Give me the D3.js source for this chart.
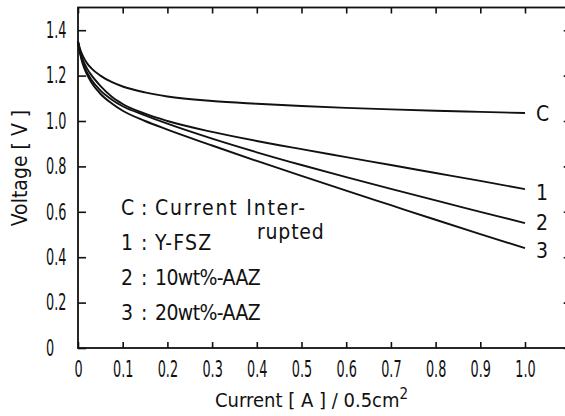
<!DOCTYPE html>
<html><head><meta charset="utf-8">
<script src="https://cdn.jsdelivr.net/npm/d3@7"></script>
<style>
html,body{margin:0;padding:0;background:#fff;}
text{font-family:"DejaVu Sans Condensed","DejaVu Sans",sans-serif;fill:#111;}
</style></head>
<body><svg id="c" width="565" height="416"></svg>
<script>
const current = [0, 0.005, 0.01, 0.02, 0.03, 0.05, 0.075, 0.1, 0.15, 0.2, 0.3, 0.4, 0.5, 0.6, 0.7, 0.8, 0.9, 1.0];
const voltC = [1.35, 1.315, 1.29, 1.255, 1.232, 1.2, 1.172, 1.152, 1.126, 1.108, 1.088, 1.076, 1.066, 1.058, 1.051, 1.045, 1.04, 1.035];
const volt1 = [1.35, 1.302, 1.273, 1.232, 1.202, 1.155, 1.108, 1.075, 1.032, 1.0, 0.952, 0.912, 0.876, 0.841, 0.806, 0.771, 0.736, 0.70];
const volt2 = [1.35, 1.298, 1.262, 1.215, 1.182, 1.135, 1.095, 1.065, 1.025, 0.988, 0.922, 0.862, 0.806, 0.753, 0.701, 0.65, 0.60, 0.55];
const volt3 = [1.35, 1.295, 1.255, 1.205, 1.17, 1.12, 1.078, 1.045, 1.0, 0.962, 0.892, 0.824, 0.758, 0.693, 0.629, 0.565, 0.502, 0.44];
const seriesKeys = ["C", "1", "2", "3"];
const seriesValues = [voltC, volt1, volt2, volt3];
const xTicks = [0, 0.1, 0.2, 0.3, 0.4, 0.5, 0.6, 0.7, 0.8, 0.9, 1.0];
const xTickLabels = ["0", "0.1", "0.2", "0.3", "0.4", "0.5", "0.6", "0.7", "0.8", "0.9", "1.0"];
const yTicks = [0, 0.2, 0.4, 0.6, 0.8, 1.0, 1.2, 1.4];
const yTickLabels = ["0", "0.2", "0.4", "0.6", "0.8", "1.0", "1.2", "1.4"];
const legendKeys = ["C", "1", "2", "3"];
const legendNames = ["Current Inter-", "Y-FSZ", "10wt%-AAZ", "20wt%-AAZ"];
const legendWrap = "rupted";

const svg = d3.select("#c");
const x = d3.scaleLinear().domain([0, 1.1]).range([78, 569.7]);
const y = d3.scaleLinear().domain([0, 1.5]).range([348, 7.5]);
const ink = "#111";
const sx = 0.62;

svg.append("rect").attr("x", x(0)).attr("y", y(1.5)).attr("width", x(1.1) - x(0)).attr("height", y(0) - y(1.5))
  .attr("fill", "none").attr("stroke", ink).attr("stroke-width", 1.8);

const gx = svg.append("g").attr("transform", `translate(0,${y(0)})`)
  .call(d3.axisBottom(x).tickValues(xTicks).tickSize(-6).tickFormat((d, i) => xTickLabels[i]).tickPadding(11));
gx.select(".domain").remove();
gx.selectAll("line").attr("stroke", ink).attr("stroke-width", 1.6);
gx.selectAll("text").attr("font-size", 23).attr("fill", ink).attr("dy", "0.8em")
  .attr("transform", `scale(${sx},1)`);

const gt = svg.append("g").attr("transform", `translate(0,${y(1.5)})`)
  .call(d3.axisTop(x).tickValues(xTicks).tickSize(-6).tickFormat(""));
gt.select(".domain").remove();
gt.selectAll("line").attr("stroke", ink).attr("stroke-width", 1.6);

const gy = svg.append("g").attr("transform", `translate(${x(0)},0)`)
  .call(d3.axisLeft(y).tickValues(yTicks).tickSize(-8).tickFormat((d, i) => yTickLabels[i]));
gy.select(".domain").remove();
gy.selectAll("line").attr("stroke", ink).attr("stroke-width", 1.6);
gy.selectAll("text").attr("font-size", 23).attr("fill", ink)
  .attr("text-anchor", "start").attr("x", (46 - x(0)) / sx).attr("transform", `scale(${sx},1)`);

const gr = svg.append("g").attr("transform", `translate(${x(1.1)},0)`)
  .call(d3.axisRight(y).tickValues(yTicks).tickSize(-6).tickFormat(""));
gr.select(".domain").remove();
gr.selectAll("line").attr("stroke", ink).attr("stroke-width", 1.6);

const line = d3.line().x((d, i) => x(current[i])).y(d => y(d)).curve(d3.curveMonotoneX);
const labelDy = ["0.36em", "0.5em", "0.32em", "0.45em"];
seriesValues.forEach((vals, k) => {
  svg.append("path").attr("d", line(vals)).attr("fill", "none").attr("stroke", ink).attr("stroke-width", 1.9);
  svg.append("text").attr("x", x(current[current.length - 1]) + 11).attr("y", y(vals[vals.length - 1]))
    .attr("dy", labelDy[k]).attr("font-size", 21).attr("text-anchor", "start").text(seriesKeys[k]);
});

// legend
const legY = [215, 250, 285, 320];
const legSpacing = [1.8, 1.2, -0.6, -0.6];
legendKeys.forEach((k, i) => {
  svg.append("text").attr("x", 121).attr("y", legY[i]).attr("font-size", 21).text(k);
  svg.append("text").attr("x", 141).attr("y", legY[i]).attr("font-size", 21).text(":");
  svg.append("text").attr("x", 155).attr("y", legY[i]).attr("font-size", 21)
    .attr("letter-spacing", legSpacing[i]).text(legendNames[i]);
});
svg.append("text").attr("x", 257).attr("y", 239).attr("font-size", 21).attr("letter-spacing", 0.8).text(legendWrap);

svg.append("text").attr("transform", "translate(27,168) rotate(-90)").attr("text-anchor", "middle")
  .attr("font-size", 21).text("Voltage [ V ]");
const xt = svg.append("text").attr("y", 407).attr("font-size", 20);
xt.append("tspan").attr("x", 215).text("Current [ A ] / 0.5cm");
xt.append("tspan").attr("font-size", 15).attr("dy", -8).text("2");
</script></body></html>
